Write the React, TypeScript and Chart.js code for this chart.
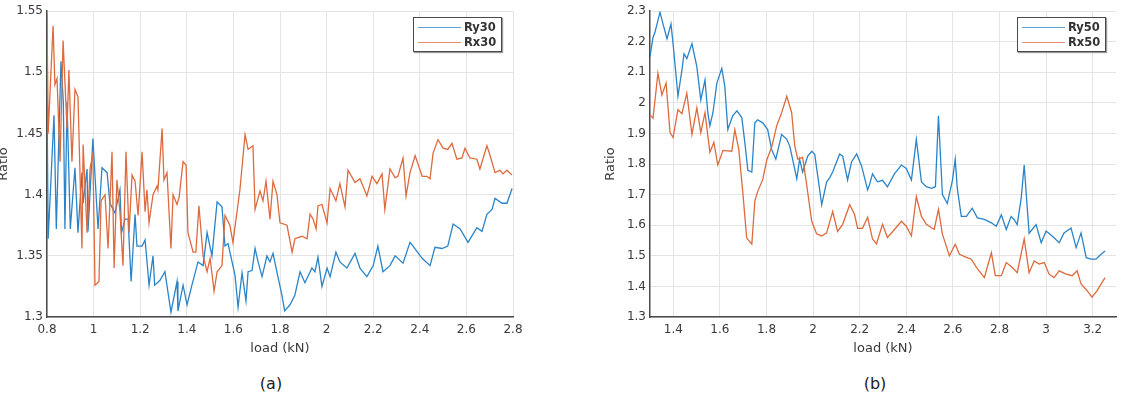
import React, { useEffect, useRef } from "react";
import { Chart, registerables } from "chart.js";

Chart.register(...registerables);

// Panel (a): ratio vs load for the 30 series, [load kN, ratio]
const ry30: [number, number][] = [
  [0.8, 1.481], [0.805, 1.364], [0.83, 1.465], [0.84, 1.372], [0.86, 1.509], [0.87, 1.476], [0.877, 1.372],
  [0.886, 1.476], [0.9, 1.372], [0.92, 1.422], [0.933, 1.369], [0.95, 1.418], [0.955, 1.393], [0.972, 1.421],
  [0.976, 1.37], [0.997, 1.446], [1.019, 1.372], [1.036, 1.422], [1.058, 1.418], [1.07, 1.393], [1.092, 1.385],
  [1.113, 1.404], [1.12, 1.369], [1.135, 1.38], [1.148, 1.38], [1.161, 1.329], [1.178, 1.384], [1.186, 1.358],
  [1.208, 1.358], [1.221, 1.363], [1.238, 1.326], [1.255, 1.35], [1.262, 1.326], [1.285, 1.33], [1.306, 1.337],
  [1.332, 1.304], [1.358, 1.329], [1.362, 1.305], [1.384, 1.326], [1.401, 1.31], [1.422, 1.326], [1.448, 1.345],
  [1.47, 1.342], [1.487, 1.369], [1.508, 1.35], [1.53, 1.394], [1.551, 1.39], [1.564, 1.358], [1.577, 1.36],
  [1.607, 1.334], [1.62, 1.308], [1.637, 1.336], [1.654, 1.313], [1.663, 1.337], [1.68, 1.338], [1.693, 1.356],
  [1.706, 1.345], [1.723, 1.333], [1.744, 1.35], [1.757, 1.345], [1.77, 1.352], [1.791, 1.333], [1.809, 1.317],
  [1.82, 1.305], [1.843, 1.31], [1.864, 1.318], [1.886, 1.337], [1.907, 1.328], [1.937, 1.34], [1.95, 1.337],
  [1.963, 1.349], [1.98, 1.325], [2.002, 1.34], [2.015, 1.333], [2.04, 1.353], [2.057, 1.345], [2.087, 1.34],
  [2.122, 1.352], [2.143, 1.34], [2.173, 1.333], [2.2, 1.342], [2.22, 1.358], [2.242, 1.337], [2.272, 1.342],
  [2.294, 1.35], [2.328, 1.344], [2.358, 1.361], [2.375, 1.357], [2.41, 1.348], [2.444, 1.342], [2.465, 1.357],
  [2.495, 1.356], [2.52, 1.358], [2.543, 1.376], [2.573, 1.372], [2.607, 1.361], [2.645, 1.373], [2.667, 1.37],
  [2.688, 1.384], [2.71, 1.388], [2.723, 1.397], [2.753, 1.393], [2.774, 1.393], [2.796, 1.405],
];

const rx30: [number, number][] = [
  [0.8, 1.548], [0.805, 1.45], [0.826, 1.538], [0.834, 1.49], [0.843, 1.495], [0.856, 1.427], [0.869, 1.526],
  [0.886, 1.454], [0.894, 1.502], [0.907, 1.427], [0.92, 1.486], [0.933, 1.48], [0.95, 1.356], [0.955, 1.441],
  [0.972, 1.369], [0.985, 1.422], [0.997, 1.433], [1.006, 1.326], [1.023, 1.329], [1.032, 1.395], [1.049, 1.4],
  [1.062, 1.356], [1.079, 1.435], [1.088, 1.34], [1.1, 1.412], [1.113, 1.386], [1.126, 1.342], [1.139, 1.435],
  [1.152, 1.369], [1.165, 1.416], [1.178, 1.411], [1.191, 1.383], [1.208, 1.435], [1.221, 1.386], [1.229, 1.404],
  [1.238, 1.377], [1.255, 1.4], [1.272, 1.407], [1.276, 1.404], [1.294, 1.454], [1.302, 1.412], [1.315, 1.418],
  [1.332, 1.356], [1.341, 1.4], [1.358, 1.392], [1.367, 1.398], [1.384, 1.427], [1.397, 1.424], [1.405, 1.369],
  [1.427, 1.353], [1.439, 1.353], [1.452, 1.391], [1.47, 1.35], [1.487, 1.337], [1.5, 1.348], [1.517, 1.321],
  [1.53, 1.337], [1.551, 1.342], [1.564, 1.383], [1.585, 1.375], [1.598, 1.361], [1.628, 1.404], [1.65, 1.449],
  [1.663, 1.437], [1.684, 1.44], [1.693, 1.388], [1.714, 1.403], [1.727, 1.395], [1.74, 1.411], [1.757, 1.38],
  [1.77, 1.411], [1.787, 1.4], [1.8, 1.377], [1.83, 1.375], [1.852, 1.353], [1.864, 1.364], [1.894, 1.366],
  [1.916, 1.364], [1.929, 1.384], [1.942, 1.38], [1.955, 1.372], [1.963, 1.391], [1.98, 1.392], [2.002, 1.377],
  [2.015, 1.405], [2.04, 1.395], [2.057, 1.409], [2.079, 1.39], [2.092, 1.42], [2.122, 1.41], [2.143, 1.413],
  [2.156, 1.407], [2.173, 1.399], [2.195, 1.415], [2.216, 1.409], [2.238, 1.417], [2.25, 1.388], [2.272, 1.421],
  [2.294, 1.414], [2.306, 1.415], [2.328, 1.43], [2.341, 1.399], [2.358, 1.418], [2.38, 1.432], [2.41, 1.415],
  [2.43, 1.415], [2.444, 1.413], [2.457, 1.434], [2.478, 1.445], [2.5, 1.438], [2.52, 1.437], [2.538, 1.442],
  [2.559, 1.429], [2.581, 1.43], [2.594, 1.438], [2.615, 1.43], [2.645, 1.429], [2.658, 1.421], [2.688, 1.44],
  [2.7, 1.433], [2.723, 1.418], [2.744, 1.42], [2.757, 1.417], [2.774, 1.42], [2.796, 1.416],
];

// Panel (b): ratio vs load for the 50 series, [load kN, ratio]
const ry50: [number, number][] = [
  [1.3, 2.151], [1.313, 2.215], [1.321, 2.23], [1.343, 2.297], [1.356, 2.258], [1.373, 2.21], [1.39, 2.258],
  [1.399, 2.194], [1.42, 2.022], [1.437, 2.107], [1.446, 2.161], [1.458, 2.145], [1.48, 2.194], [1.501, 2.119],
  [1.518, 2.01], [1.536, 2.075], [1.548, 1.968], [1.557, 1.925], [1.57, 1.968], [1.587, 2.065], [1.608, 2.113],
  [1.621, 2.055], [1.634, 1.913], [1.655, 1.958], [1.673, 1.974], [1.694, 1.952], [1.707, 1.871], [1.72, 1.78],
  [1.737, 1.774], [1.75, 1.935], [1.762, 1.945], [1.784, 1.935], [1.805, 1.913], [1.822, 1.848], [1.84, 1.816],
  [1.865, 1.897], [1.887, 1.881], [1.9, 1.858], [1.912, 1.816], [1.93, 1.752], [1.942, 1.816], [1.955, 1.774],
  [1.977, 1.826], [1.994, 1.842], [2.007, 1.832], [2.037, 1.667], [2.058, 1.742], [2.071, 1.755], [2.084, 1.774],
  [2.114, 1.833], [2.127, 1.826], [2.148, 1.748], [2.165, 1.807], [2.187, 1.833], [2.208, 1.794], [2.234, 1.716],
  [2.242, 1.732], [2.255, 1.768], [2.276, 1.742], [2.298, 1.747], [2.319, 1.726], [2.349, 1.768], [2.379, 1.797],
  [2.4, 1.786], [2.422, 1.748], [2.443, 1.881], [2.465, 1.742], [2.486, 1.726], [2.508, 1.721], [2.525, 1.726],
  [2.538, 1.958], [2.555, 1.7], [2.576, 1.671], [2.598, 1.747], [2.61, 1.816], [2.619, 1.72], [2.636, 1.629],
  [2.658, 1.629], [2.683, 1.656], [2.705, 1.624], [2.735, 1.619], [2.765, 1.608], [2.786, 1.597], [2.808, 1.634],
  [2.829, 1.586], [2.85, 1.629], [2.863, 1.618], [2.876, 1.602], [2.893, 1.688], [2.906, 1.797], [2.915, 1.7],
  [2.927, 1.574], [2.957, 1.602], [2.979, 1.543], [3.0, 1.581], [3.026, 1.565], [3.056, 1.543], [3.077, 1.575],
  [3.107, 1.591], [3.129, 1.527], [3.15, 1.575], [3.172, 1.494], [3.193, 1.489], [3.214, 1.489], [3.236, 1.505],
  [3.253, 1.516],
];

const rx50: [number, number][] = [
  [1.3, 1.961], [1.313, 1.95], [1.334, 2.097], [1.351, 2.026], [1.369, 2.065], [1.386, 1.903], [1.399, 1.887],
  [1.42, 1.978], [1.437, 1.965], [1.458, 2.032], [1.48, 1.897], [1.501, 1.984], [1.518, 1.903], [1.536, 1.968],
  [1.557, 1.839], [1.574, 1.871], [1.591, 1.797], [1.613, 1.845], [1.651, 1.842], [1.664, 1.913], [1.681, 1.848],
  [1.698, 1.71], [1.715, 1.558], [1.737, 1.538], [1.75, 1.68], [1.762, 1.71], [1.784, 1.75], [1.801, 1.813],
  [1.822, 1.855], [1.844, 1.926], [1.865, 1.968], [1.887, 2.022], [1.908, 1.968], [1.921, 1.861], [1.934, 1.816],
  [1.955, 1.822], [1.972, 1.735], [1.994, 1.613], [2.015, 1.572], [2.037, 1.565], [2.058, 1.575], [2.084, 1.645],
  [2.105, 1.58], [2.127, 1.603], [2.157, 1.667], [2.178, 1.635], [2.191, 1.59], [2.212, 1.59], [2.234, 1.626],
  [2.255, 1.555], [2.272, 1.539], [2.298, 1.603], [2.319, 1.56], [2.34, 1.578], [2.379, 1.613], [2.4, 1.597],
  [2.422, 1.565], [2.443, 1.694], [2.465, 1.629], [2.486, 1.603], [2.508, 1.592], [2.52, 1.587], [2.538, 1.652],
  [2.555, 1.571], [2.585, 1.5], [2.61, 1.538], [2.628, 1.505], [2.658, 1.495], [2.679, 1.489], [2.701, 1.462],
  [2.735, 1.429], [2.765, 1.51], [2.782, 1.435], [2.808, 1.435], [2.829, 1.478], [2.855, 1.462], [2.876, 1.445],
  [2.906, 1.555], [2.927, 1.445], [2.949, 1.483], [2.97, 1.473], [2.992, 1.478], [3.013, 1.44], [3.034, 1.429],
  [3.056, 1.451], [3.086, 1.44], [3.112, 1.435], [3.133, 1.451], [3.15, 1.408], [3.176, 1.386], [3.197, 1.365],
  [3.219, 1.386], [3.253, 1.429],
];

// Tick positions
const xTicksA = [0.8, 1, 1.2, 1.4, 1.6, 1.8, 2, 2.2, 2.4, 2.6, 2.8];
const yTicksA = [1.3, 1.35, 1.4, 1.45, 1.5, 1.55];
const xTicksB = [1.4, 1.6, 1.8, 2, 2.2, 2.4, 2.6, 2.8, 3, 3.2];
const yTicksB = [1.3, 1.4, 1.5, 1.6, 1.7, 1.8, 1.9, 2, 2.1, 2.2, 2.3];

const BLUE = "#2a84c9";
const ORANGE = "#de6a3d";
const TEXT = "#3a3a3a";
const FONT = "'DejaVu Sans', Arial, sans-serif";

type Series = { name: string; points: [number, number][]; color: string };

type PanelProps = {
  left: number;
  width: number;
  height: number;
  plotBottom: number;
  yAxisWidth: number;
  padRight: number;
  xRange: [number, number];
  yRange: [number, number];
  xTicks: number[];
  yTicks: number[];
  series: Series[];
};

const fmt = (v: number) => String(parseFloat(Number(v).toFixed(2)));

function Panel(props: PanelProps) {
  const ref = useRef<HTMLCanvasElement | null>(null);

  useEffect(() => {
    const canvas = ref.current;
    if (!canvas) return;
    const p = props;
    const chart = new Chart(canvas, {
      type: "line",
      data: {
        datasets: p.series.map((s, i) => ({
          label: s.name,
          data: s.points.map(([x, y]) => ({ x, y })),
          borderColor: s.color,
          backgroundColor: s.color,
          borderWidth: 1.3,
          pointRadius: 0,
          tension: 0,
          fill: false,
          order: p.series.length - i,
        })),
      },
      options: {
        animation: false,
        responsive: false,
        maintainAspectRatio: false,
        events: [],
        layout: { padding: { top: 7, right: p.padRight, bottom: 0, left: 0 } },
        plugins: { legend: { display: false }, tooltip: { enabled: false } },
        scales: {
          x: {
            type: "linear",
            min: p.xRange[0],
            max: p.xRange[1],
            afterBuildTicks: (s: any) => {
              s.ticks = p.xTicks.map((v) => ({ value: v }));
            },
            afterFit: (s: any) => {
              s.height = p.height - p.plotBottom;
            },
            ticks: {
              callback: (v: any) => fmt(v),
              font: { family: FONT, size: 12 },
              color: TEXT,
              padding: 6,
              maxRotation: 0,
              autoSkip: false,
            },
            grid: { color: "#e4e4e4", lineWidth: 1, drawTicks: false },
            border: { display: true, color: "#4a4a4a", width: 1.5 },
            title: {
              display: true,
              text: "load (kN)",
              font: { family: FONT, size: 13 },
              color: TEXT,
              padding: { top: 0, bottom: 4 },
            },
          },
          y: {
            type: "linear",
            min: p.yRange[0],
            max: p.yRange[1],
            afterBuildTicks: (s: any) => {
              s.ticks = p.yTicks.map((v) => ({ value: v }));
            },
            afterFit: (s: any) => {
              s.width = p.yAxisWidth;
            },
            ticks: {
              callback: (v: any) => fmt(v),
              font: { family: FONT, size: 12 },
              color: TEXT,
              padding: 4,
              autoSkip: false,
            },
            grid: { color: "#e4e4e4", lineWidth: 1, drawTicks: false },
            border: { display: true, color: "#4a4a4a", width: 1.5 },
            title: {
              display: true,
              text: "Ratio",
              font: { family: FONT, size: 13 },
              color: TEXT,
              padding: { top: 0, bottom: 0 },
            },
          },
        },
      },
    } as any);
    return () => chart.destroy();
  }, []);

  return (
    <canvas
      ref={ref}
      width={props.width}
      height={props.height}
      style={{ position: "absolute", left: props.left, top: 0, width: props.width, height: props.height }}
    />
  );
}

function Legend({ left, series }: { left: number; series: Series[] }) {
  return (
    <div
      style={{
        position: "absolute",
        left,
        top: 17,
        width: 87,
        height: 33,
        border: "1px solid #4a4a4a",
        boxShadow: "1px 1px 1px #9a9a9a",
        background: "#fff",
        fontFamily: FONT,
        fontSize: 11.5,
        fontWeight: "bold",
        color: "#333",
      }}
    >
      {series.map((s, i) => (
        <div key={s.name} style={{ position: "absolute", left: 0, top: 2 + i * 15, height: 14, width: 87 }}>
          <div
            style={{
              position: "absolute",
              left: 4,
              top: 7,
              width: 43,
              height: 1.3,
              background: s.color,
              opacity: 0.75,
            }}
          />
          <span style={{ position: "absolute", left: 50, top: 0, lineHeight: "14px" }}>{s.name}</span>
        </div>
      ))}
    </div>
  );
}

function Caption({ x, text }: { x: number; text: string }) {
  return (
    <div
      style={{
        position: "absolute",
        left: x - 30,
        width: 60,
        top: 374,
        textAlign: "center",
        fontFamily: "'DejaVu Sans', sans-serif",
        fontSize: 16,
        color: "#222",
      }}
    >
      {text}
    </div>
  );
}

export default function App() {
  const seriesA: Series[] = [
    { name: "Ry30", points: ry30, color: BLUE },
    { name: "Rx30", points: rx30, color: ORANGE },
  ];
  const seriesB: Series[] = [
    { name: "Ry50", points: ry50, color: BLUE },
    { name: "Rx50", points: rx50, color: ORANGE },
  ];
  return (
    <div
      style={{
        position: "fixed",
        left: 0,
        top: 0,
        width: 1123,
        height: 399,
        background: "#fff",
        overflow: "hidden",
      }}
    >
      <Panel
        left={-4}
        width={534}
        height={360}
        plotBottom={317}
        yAxisWidth={51}
        padRight={17}
        xRange={[0.8, 2.8]}
        yRange={[1.3, 1.55]}
        xTicks={xTicksA}
        yTicks={yTicksA}
        series={seriesA}
      />
      <Panel
        left={603}
        width={520}
        height={360}
        plotBottom={317}
        yAxisWidth={47}
        padRight={7}
        xRange={[1.3, 3.3]}
        yRange={[1.3, 2.3]}
        xTicks={xTicksB}
        yTicks={yTicksB}
        series={seriesB}
      />
      <Legend left={413} series={seriesA} />
      <Legend left={1017} series={seriesB} />
      <Caption x={271} text="(a)" />
      <Caption x={875} text="(b)" />
    </div>
  );
}
